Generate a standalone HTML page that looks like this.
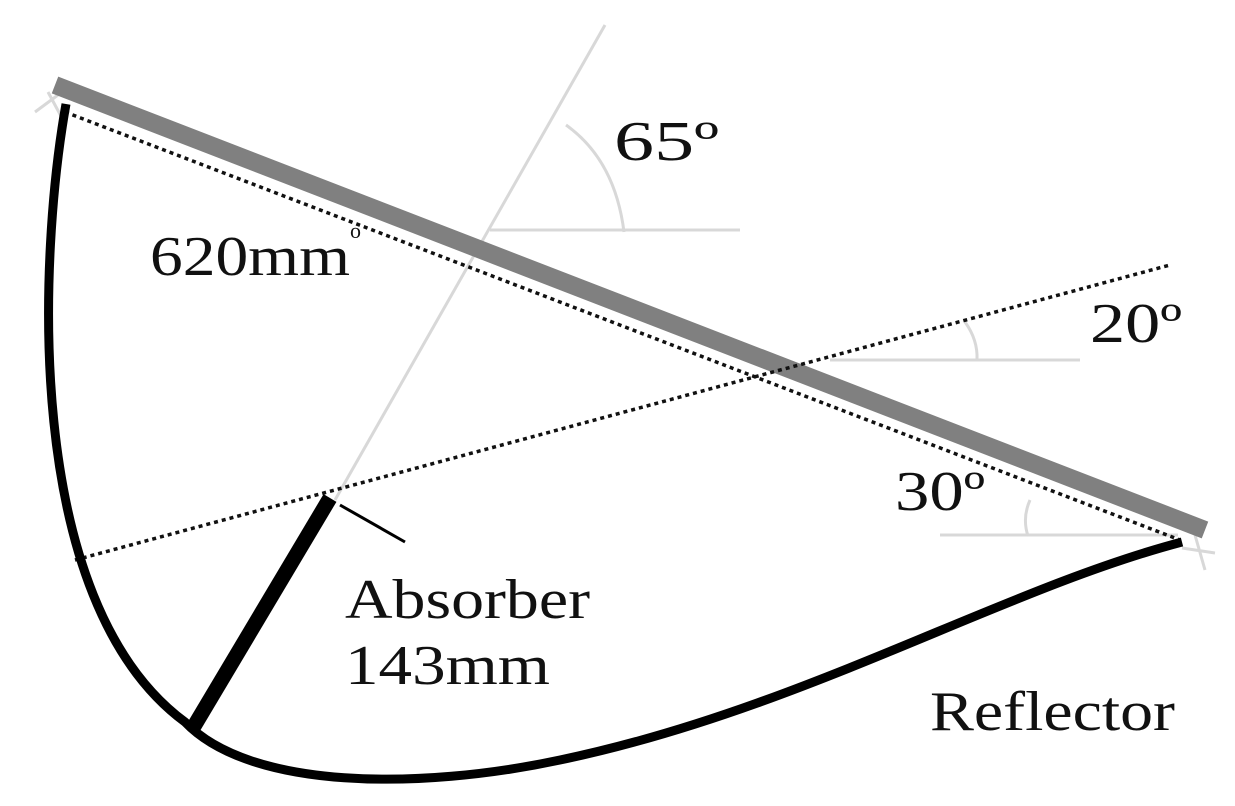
<!DOCTYPE html>
<html><head><meta charset="utf-8"><style>
html,body{margin:0;padding:0;background:#fff;}
svg{display:block;}
text{font-family:"Liberation Serif",serif;fill:#111;}
</style></head><body>
<svg width="1235" height="806" viewBox="0 0 1235 806" xmlns="http://www.w3.org/2000/svg">
<g stroke="#d8d8d8" stroke-width="3" fill="none">
<line x1="605" y1="25" x2="335" y2="500"/>
<line x1="490" y1="230" x2="740" y2="230"/>
<path d="M566 125 Q615 160 624 232"/>
<line x1="830" y1="360" x2="1080" y2="360"/>
<path d="M965 322 Q978 340 977 360"/>
<line x1="940" y1="535" x2="1178" y2="535"/>
<path d="M1030 500 Q1022 518 1028 536"/>
<path d="M35 112 L58 95 M48 92 L62 118"/>
<path d="M1182 548 L1215 553 M1195 535 L1205 570"/>
</g>
<line x1="55" y1="85" x2="1205" y2="530" stroke="#808080" stroke-width="18"/>
<g stroke="#111" stroke-width="3.5" stroke-dasharray="4 4" fill="none">
<line x1="65" y1="112" x2="1180" y2="540"/>
<line x1="75" y1="560" x2="1170" y2="265"/>
</g>
<path d="M66 104 C40 250 20 600 185 722 C250 790 420 790 560 760 C800 710 1000 590 1182 542" stroke="#000" stroke-width="9" fill="none"/>
<line x1="330" y1="498" x2="193" y2="728" stroke="#000" stroke-width="15"/>
<line x1="340" y1="505" x2="405" y2="542" stroke="#000" stroke-width="3"/>
<g font-size="56">
<text x="614" y="160" textLength="105" lengthAdjust="spacingAndGlyphs">65º</text>
<text x="150" y="275" textLength="200" lengthAdjust="spacingAndGlyphs">620mm</text>
<text x="1090" y="342" textLength="92" lengthAdjust="spacingAndGlyphs">20º</text>
<text x="895" y="510" textLength="90" lengthAdjust="spacingAndGlyphs">30º</text>
<text x="345" y="618" textLength="245" lengthAdjust="spacingAndGlyphs">Absorber</text>
<text x="345" y="684" textLength="205" lengthAdjust="spacingAndGlyphs">143mm</text>
<text x="930" y="730" textLength="245" lengthAdjust="spacingAndGlyphs">Reflector</text>
</g>
<text x="350" y="238" font-size="22" fill="#333">o</text>
</svg>
</body></html>
